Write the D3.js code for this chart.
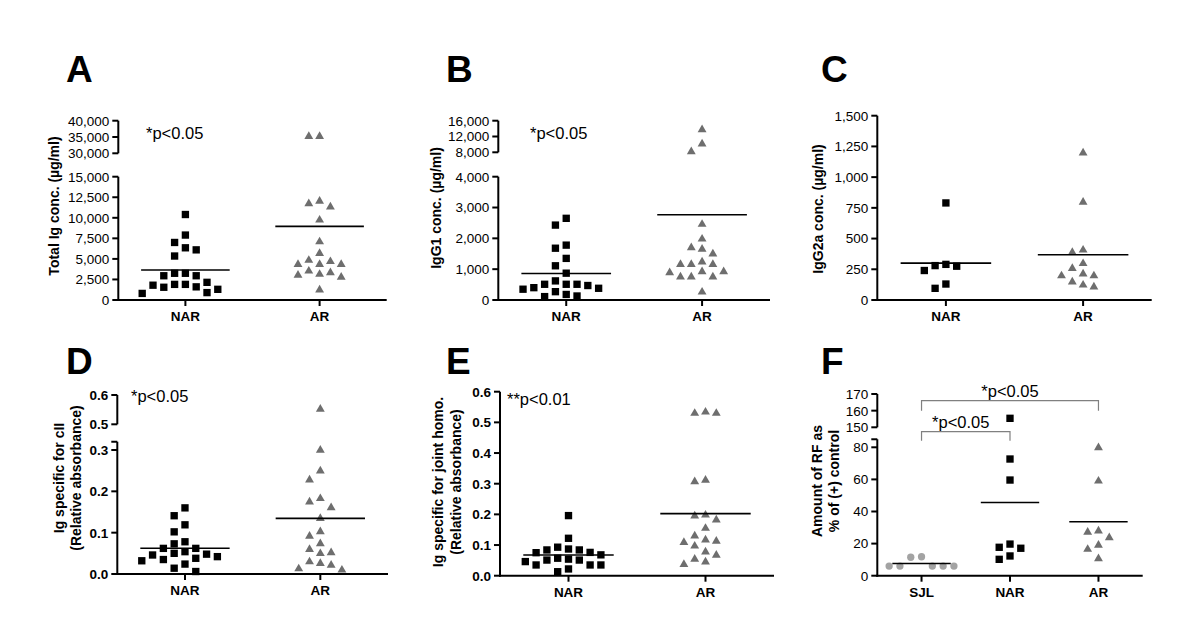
<!DOCTYPE html>
<html><head><meta charset="utf-8">
<script src="https://cdn.jsdelivr.net/npm/d3@7"></script>
<style>
body{margin:0;background:#fff}
svg{display:block}
text{font-family:Arial,"Liberation Sans",Helvetica,sans-serif;fill:#000}
</style>
</head><body>
<svg id="chart" width="1200" height="639"></svg>
<script>
// ---------- data ----------
const groups2 = ["NAR", "AR"];
const groups3 = ["SJL", "NAR", "AR"];

const A_NAR = [10400, 7900, 7000, 6350, 6100, 5350, 3250, 2950, 2950, 3250, 1900, 1600, 2150, 1900, 1300, 1550, 1800, 800, 900];
const A_AR  = [35500, 35500, 12150, 11450, 11850, 9850, 7200, 5800, 4950, 4450, 4450, 4450, 4800, 3450, 3150, 2900, 3250, 3650, 1350];
const B_NAR = [2650, 2430, 1680, 1780, 1350, 1110, 870, 620, 400, 350, 510, 470, 510, 510, 180, 110, 130, 270, 380];
const B_AR  = [14000, 10400, 8400, 2490, 2010, 1730, 1680, 1530, 1190, 1190, 1190, 1270, 950, 920, 950, 780, 780, 780, 290];
const C_NAR = [790, 290, 275, 240, 280, 95, 130];
const C_AR  = [1205, 805, 395, 415, 305, 265, 220, 205, 205, 155, 115, 130];
const D_NAR = [0.160, 0.141, 0.119, 0.102, 0.073, 0.078, 0.062, 0.062, 0.054, 0.048, 0.042, 0.046, 0.050, 0.038, 0.035, 0.032, 0.024, 0.014, 0.006];
const D_AR  = [0.555, 0.302, 0.252, 0.230, 0.163, 0.177, 0.185, 0.137, 0.094, 0.105, 0.076, 0.054, 0.052, 0.062, 0.032, 0.024, 0.012, 0.015, 0.028];
const E_NAR = [0.196, 0.122, 0.084, 0.075, 0.087, 0.093, 0.068, 0.076, 0.084, 0.051, 0.035, 0.035, 0.057, 0.051, 0.054, 0.035, 0.046, 0.013, 0.022];
const E_AR  = [0.537, 0.533, 0.533, 0.315, 0.310, 0.185, 0.198, 0.201, 0.158, 0.133, 0.120, 0.116, 0.112, 0.100, 0.081, 0.057, 0.040, 0.048, 0.070];
const F_SJL = [6, 6, 6, 6, 6, 11.5, 11.8];
const F_NAR = [155.4, 72.7, 59.6, 19.7, 17.1, 17.7, 10.2, 12.3];
const F_AR  = [80.4, 59.6, 24.3, 27.8, 28.5, 19.7, 17.1, 11.2];

const A_ticksLow = [0, 2500, 5000, 7500, 10000, 12500, 15000];
const A_ticksHigh = [30000, 35000, 40000];
const B_ticksLow = [0, 1000, 2000, 3000, 4000];
const B_ticksHigh = [8000, 12000, 16000];
const C_ticks = [0, 250, 500, 750, 1000, 1250, 1500];
const D_ticksLow = [0, 0.1, 0.2, 0.3];
const D_ticksHigh = [0.5, 0.6];
const E_ticks = [0, 0.1, 0.2, 0.3, 0.4, 0.5, 0.6];
const F_ticksLow = [0, 20, 40, 60, 80];
const F_ticksHigh = [150, 160, 170];

// ---------- styles ----------
const COL_SQ = "#000", COL_TRI = "#6e6e6e", COL_CIR = "#a3a3a3";
const markerFor = {NAR: {type: d3.symbolSquare, size: 54, color: COL_SQ},
                   AR:  {type: d3.symbolTriangle, size: 34, color: COL_TRI},
                   SJL: {type: d3.symbolCircle, size: 42, color: COL_CIR}};

const panels = [
  {letter: "A", lx: 66, ly: 82, x0: 118.3, x1: 386.7, y0: 300, groups: groups2, series: [A_NAR, A_AR],
   segs: [{domain: [0, 15000], range: [300, 176.7], ticks: A_ticksLow},
          {domain: [30000, 40000], range: [153.3, 120.7], ticks: A_ticksHigh}],
   fmt: d3.format(","), bold: false, label: ["Total Ig conc. (µg/ml)"], labX: [53.5], labY: 206,
   ptext: "*p<0.05", px: 146, py: 139},
  {letter: "B", lx: 446, ly: 82, x0: 498.3, x1: 770, y0: 300, groups: groups2, series: [B_NAR, B_AR],
   segs: [{domain: [0, 4000], range: [300, 176.7], ticks: B_ticksLow},
          {domain: [8000, 16000], range: [152.3, 120.7], ticks: B_ticksHigh}],
   fmt: d3.format(","), bold: false, label: ["IgG1 conc. (µg/ml)"], labX: [436], labY: 208,
   ptext: "*p<0.05", px: 530, py: 139},
  {letter: "C", lx: 821, ly: 82, x0: 877.3, x1: 1151.7, y0: 300, groups: groups2, series: [C_NAR, C_AR],
   segs: [{domain: [0, 1500], range: [300, 115.7], ticks: C_ticks}],
   fmt: d3.format(","), bold: false, label: ["IgG2a conc. (µg/ml)"], labX: [818], labY: 209,
   ptext: null},
  {letter: "D", lx: 66, ly: 374, x0: 117.3, x1: 388, y0: 574, groups: groups2, series: [D_NAR, D_AR],
   segs: [{domain: [0, 0.32], range: [574, 574 - 0.32 * 413.3], ticks: D_ticksLow},
          {domain: [0.5, 0.6], range: [424.3, 395], ticks: D_ticksHigh}],
   fmt: d3.format(".1f"), bold: true, label: ["Ig specific for cII", "(Relative absorbance)"], labX: [59, 75.5], labY: 478,
   ptext: "*p<0.05", px: 131, py: 402},
  {letter: "E", lx: 446, ly: 374, x0: 500, x1: 774, y0: 575.7, groups: groups2, series: [E_NAR, E_AR],
   segs: [{domain: [0, 0.6], range: [575.7, 391.7], ticks: E_ticks}],
   fmt: d3.format(".1f"), bold: true, label: ["Ig specific for joint homo.", "(Relative absorbance)"], labX: [438, 455.5], labY: 482,
   ptext: "**p<0.01", px: 507, py: 405},
  {letter: "F", lx: 821, ly: 374, x0: 877.3, x1: 1142.7, y0: 575.7, groups: groups3, series: [F_SJL, F_NAR, F_AR],
   segs: [{domain: [0, 85], range: [575.7, 575.7 - 85 * 1.605], ticks: F_ticksLow},
          {domain: [150, 170], range: [427.3, 394], ticks: F_ticksHigh}],
   fmt: d3.format("d"), bold: false, label: ["Amount of RF as", "% of (+) control"], labX: [816.5, 833.5], labY: 481,
   ptext: null,
   brackets: [{from: "SJL", to: "AR", y: 400.7, drop: 10, text: "*p<0.05", ty: 396.5, tdx: 0},
              {from: "SJL", to: "NAR", y: 431.7, drop: 9, text: "*p<0.05", ty: 427.5, tdx: -5}]}
];

const svg = d3.select("#chart");

function swarm(vals, cx, yOf, slot, minDy) {
  const pts = vals.map((v, i) => ({v, y: yOf(v), i}));
  const order = pts.slice().sort((a, b) => b.v - a.v);
  const placed = [];
  for (const p of order) {
    for (let k = 0; k < 30; k++) {
      const off = k === 0 ? 0 : (k % 2 ? -Math.ceil(k / 2) : Math.ceil(k / 2));
      const x = cx + off * slot;
      if (!placed.some(q => Math.abs(q.x - x) < slot * 0.9 && Math.abs(q.y - p.y) < minDy)) {
        p.x = x; placed.push(p); break;
      }
    }
  }
  return pts;
}

panels.forEach(P => {
  const g = svg.append("g");
  const x = d3.scalePoint().domain(P.groups).range([P.x0, P.x1]).padding(0.5);
  const step = x.step();
  const scales = P.segs.map(s => d3.scaleLinear().domain(s.domain).range(s.range));
  const yOf = v => {
    for (let i = P.segs.length - 1; i >= 0; i--) {
      if (v >= P.segs[i].domain[0]) return scales[i](v);
    }
    return scales[0](v);
  };

  // panel letter
  g.append("text").attr("x", P.lx).attr("y", P.ly).attr("font-size", 37).attr("font-weight", "bold").text(P.letter);

  // y axis segments
  P.segs.forEach((s, i) => {
    const sc = scales[i];
    g.append("line").attr("x1", P.x0).attr("x2", P.x0)
      .attr("y1", sc(s.domain[0]) + (i === 0 ? 1 : 0)).attr("y2", sc(s.domain[1]))
      .attr("stroke", "#000").attr("stroke-width", 2);
    const tks = s.ticks.slice();
    const allT = tks.includes(s.domain[1]) ? tks : tks.concat([s.domain[1]]);
    allT.forEach(t => {
      g.append("line").attr("x1", P.x0 - 6).attr("x2", P.x0).attr("y1", sc(t)).attr("y2", sc(t))
        .attr("stroke", "#000").attr("stroke-width", 2);
    });
    tks.forEach(t => {
      g.append("text").attr("x", P.x0 - 9).attr("y", sc(t)).attr("dy", "0.36em")
        .attr("text-anchor", "end").attr("font-size", 13.5)
        .attr("font-weight", P.bold ? "bold" : "normal").text(P.fmt(t));
    });
  });

  // x axis
  g.append("line").attr("x1", P.x0 - 1).attr("x2", P.x1).attr("y1", P.y0).attr("y2", P.y0)
    .attr("stroke", "#000").attr("stroke-width", 2);
  P.groups.forEach(c => {
    g.append("line").attr("x1", x(c)).attr("x2", x(c)).attr("y1", P.y0).attr("y2", P.y0 + 6)
      .attr("stroke", "#000").attr("stroke-width", 2);
    g.append("text").attr("x", x(c)).attr("y", P.y0 + 21).attr("text-anchor", "middle")
      .attr("font-size", 13.5).attr("font-weight", "bold").text(c);
  });

  // y label
  P.label.forEach((t, i) => {
    g.append("text").attr("transform", `translate(${P.labX[i]},${P.labY}) rotate(-90)`)
      .attr("dy", "0.36em").attr("text-anchor", "middle").attr("font-size", 14)
      .attr("font-weight", "bold").text(t);
  });

  // points + mean lines
  P.groups.forEach((c, gi) => {
    const vals = P.series[gi];
    const m = markerFor[c];
    const pts = swarm(vals, x(c), yOf, 10.8, 9.5);
    const sym = d3.symbol().type(m.type).size(m.size);
    g.selectAll(null).data(pts).join("path")
      .attr("d", sym).attr("fill", m.color)
      .attr("transform", d => `translate(${d.x},${d.y + (c === "AR" ? 1 : 0)})`);
    const mean = d3.mean(vals);
    g.append("line").attr("x1", x(c) - step * 0.33).attr("x2", x(c) + step * 0.33)
      .attr("y1", yOf(mean)).attr("y2", yOf(mean)).attr("stroke", "#000").attr("stroke-width", 1.6);
  });

  // p text
  if (P.ptext) {
    g.append("text").attr("x", P.px).attr("y", P.py).attr("font-size", 16.5).text(P.ptext);
  }
  // brackets
  (P.brackets || []).forEach(b => {
    const xa = x(b.from), xb = x(b.to);
    g.append("path").attr("d", `M${xa},${b.y + b.drop}V${b.y}H${xb}V${b.y + b.drop}`)
      .attr("fill", "none").attr("stroke", "#808080").attr("stroke-width", 1.2);
    g.append("text").attr("x", (xa + xb) / 2 + b.tdx).attr("y", b.ty)
      .attr("text-anchor", "middle").attr("font-size", 16.5).text(b.text);
  });
});
</script>
</body></html>
